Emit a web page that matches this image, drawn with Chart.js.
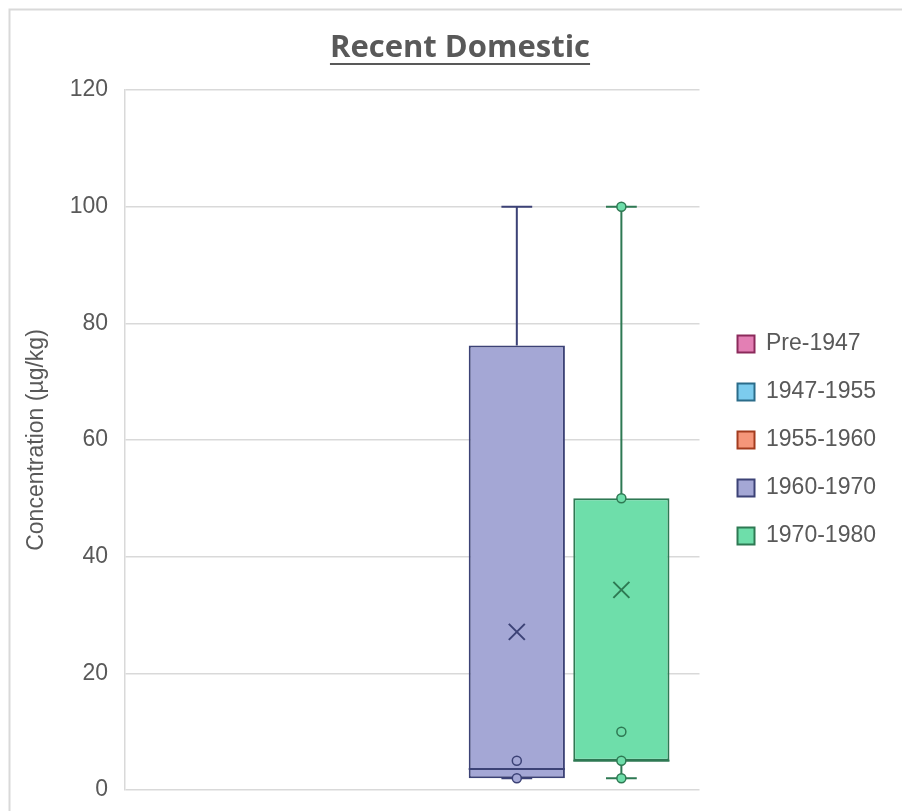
<!DOCTYPE html>
<html>
<head>
<meta charset="utf-8">
<script src="https://cdn.jsdelivr.net/npm/chart.js@4.4.1/dist/chart.umd.min.js"></script>
<style>
    html, body { margin: 0; padding: 0; background: #ffffff; }
    #wrap { position: relative; width: 902px; height: 811px; }
    #chartTitle {
        position: absolute;
        left: 0;
        top: 26px;
        width: 920px;
        text-align: center;
        font-family: 'Open Sans', sans-serif;
        font-weight: bold;
        font-size: 31px;
        line-height: 38px;
        color: #595959;
    }
    #chartTitle span {
        text-decoration: underline;
        text-decoration-thickness: 2px;
        text-underline-offset: 6px;
    }
</style>
</head>
<body>
<div id="wrap">
    <canvas id="boxChart"></canvas>
    <div id="chartTitle"><span>Recent Domestic</span></div>
</div>
<script>
// Серии (периоды постройки)
const seriesNames = ['Pre-1947', '1947-1955', '1955-1960', '1960-1970', '1970-1980'];
const fillColors = ['#E37FB4', '#7CCCEE', '#F5967A', '#A4A7D5', '#6EDEAA'];
const lineColors = ['#8B2A5B', '#2B6C8A', '#A33C1F', '#3C4276', '#2E7953'];

// Статистика боксов (µg/kg)
const whiskerMin = [null, null, null, 2, 2];
const q1Values = [null, null, null, 2, 5];
const medianValues = [null, null, null, 3.6, 5];
const q3Values = [null, null, null, 76.2, 50];
const whiskerMax = [null, null, null, 100, 100];
const meanValues = [null, null, null, 27.1, 34.3];
const innerPoints = [[], [], [], [5, 2], [100, 50, 10, 5, 2]];

// Ось Y
const yMin = 0;
const yMax = 120;
const yStep = 20;

const textColor = '#595959';
const gridColor = '#D9D9D9';

// Усы, медиана, среднее и точки поверх боксов
const boxExtrasPlugin = {
    id: 'boxExtras',
    afterDatasetsDraw(chart) {
        const ctx = chart.ctx;
        const yScale = chart.scales.y;
        seriesNames.forEach((name, i) => {
            if (q1Values[i] === null) return;
            const bar = chart.getDatasetMeta(i).data[0];
            const x = bar.x;
            const half = bar.width / 2;
            const cap = bar.width * 0.16;
            const py = v => yScale.getPixelForValue(v);

            ctx.save();
            ctx.strokeStyle = lineColors[i];
            ctx.lineWidth = 2;

            // усы
            ctx.beginPath();
            ctx.moveTo(x, py(q3Values[i]));
            ctx.lineTo(x, py(whiskerMax[i]));
            ctx.moveTo(x - cap, py(whiskerMax[i]));
            ctx.lineTo(x + cap, py(whiskerMax[i]));
            ctx.moveTo(x, py(q1Values[i]));
            ctx.lineTo(x, py(whiskerMin[i]));
            ctx.moveTo(x - cap, py(whiskerMin[i]));
            ctx.lineTo(x + cap, py(whiskerMin[i]));
            ctx.stroke();

            // медиана
            ctx.beginPath();
            ctx.moveTo(x - half, py(medianValues[i]));
            ctx.lineTo(x + half, py(medianValues[i]));
            ctx.stroke();

            // среднее (крестик)
            const my = py(meanValues[i]);
            const s = 8;
            ctx.beginPath();
            ctx.moveTo(x - s, my - s);
            ctx.lineTo(x + s, my + s);
            ctx.moveTo(x + s, my - s);
            ctx.lineTo(x - s, my + s);
            ctx.stroke();

            // внутренние точки
            ctx.lineWidth = 1.5;
            ctx.fillStyle = fillColors[i];
            innerPoints[i].forEach(v => {
                ctx.beginPath();
                ctx.arc(x, py(v), 4.5, 0, Math.PI * 2);
                ctx.fill();
                ctx.stroke();
            });
            ctx.restore();
        });
    }
};

// Рамка области диаграммы
const framePlugin = {
    id: 'frame',
    beforeDraw(chart) {
        const ctx = chart.ctx;
        ctx.save();
        ctx.strokeStyle = gridColor;
        ctx.lineWidth = 2;
        ctx.strokeRect(9.5, 9.5, chart.width + 10, chart.height + 10);
        ctx.restore();
    }
};

const datasets = seriesNames.map((name, i) => ({
    label: name,
    data: [q1Values[i] === null ? null : [q1Values[i], q3Values[i]]],
    backgroundColor: fillColors[i],
    borderColor: lineColors[i],
    borderWidth: 2,
    borderSkipped: false,
    categoryPercentage: 0.91,
    barPercentage: 0.92
}));

new Chart(document.getElementById('boxChart'), {
    type: 'bar',
    data: {
        labels: [''],
        datasets: datasets
    },
    options: {
        responsive: true,
        maintainAspectRatio: false,
        animation: false,
        layout: {
            padding: { top: 90, left: 10, right: 16, bottom: 21 }
        },
        plugins: {
            legend: {
                position: 'right',
                maxWidth: 300,
                labels: {
                    boxWidth: 17,
                    boxHeight: 17,
                    padding: 25,
                    color: textColor,
                    font: { family: "'Liberation Sans', Arial, sans-serif", size: 23 }
                }
            },
            tooltip: { enabled: false }
        },
        scales: {
            x: {
                display: false
            },
            y: {
                min: yMin,
                max: yMax,
                ticks: {
                    stepSize: yStep,
                    padding: 0,
                    color: textColor,
                    font: { family: "'Liberation Sans', Arial, sans-serif", size: 23 }
                },
                grid: {
                    color: gridColor,
                    lineWidth: 1.5,
                    drawTicks: true,
                    tickLength: 17,
                    tickColor: 'rgba(0,0,0,0)'
                },
                border: { color: gridColor, width: 1.5 },
                title: {
                    display: true,
                    text: 'Concentration (µg/kg)',
                    color: textColor,
                    padding: { top: 13, bottom: 0 },
                    font: { family: "'Liberation Sans', Arial, sans-serif", size: 23 }
                },
                afterFit(scale) {
                    scale.width = 115;
                }
            },
            gap: {
                position: 'right',
                display: true,
                ticks: { display: false },
                grid: { display: false },
                border: { display: false },
                afterFit(scale) {
                    scale.width = 13;
                }
            }
        }
    },
    plugins: [boxExtrasPlugin, framePlugin]
});
</script>
</body>
</html>
